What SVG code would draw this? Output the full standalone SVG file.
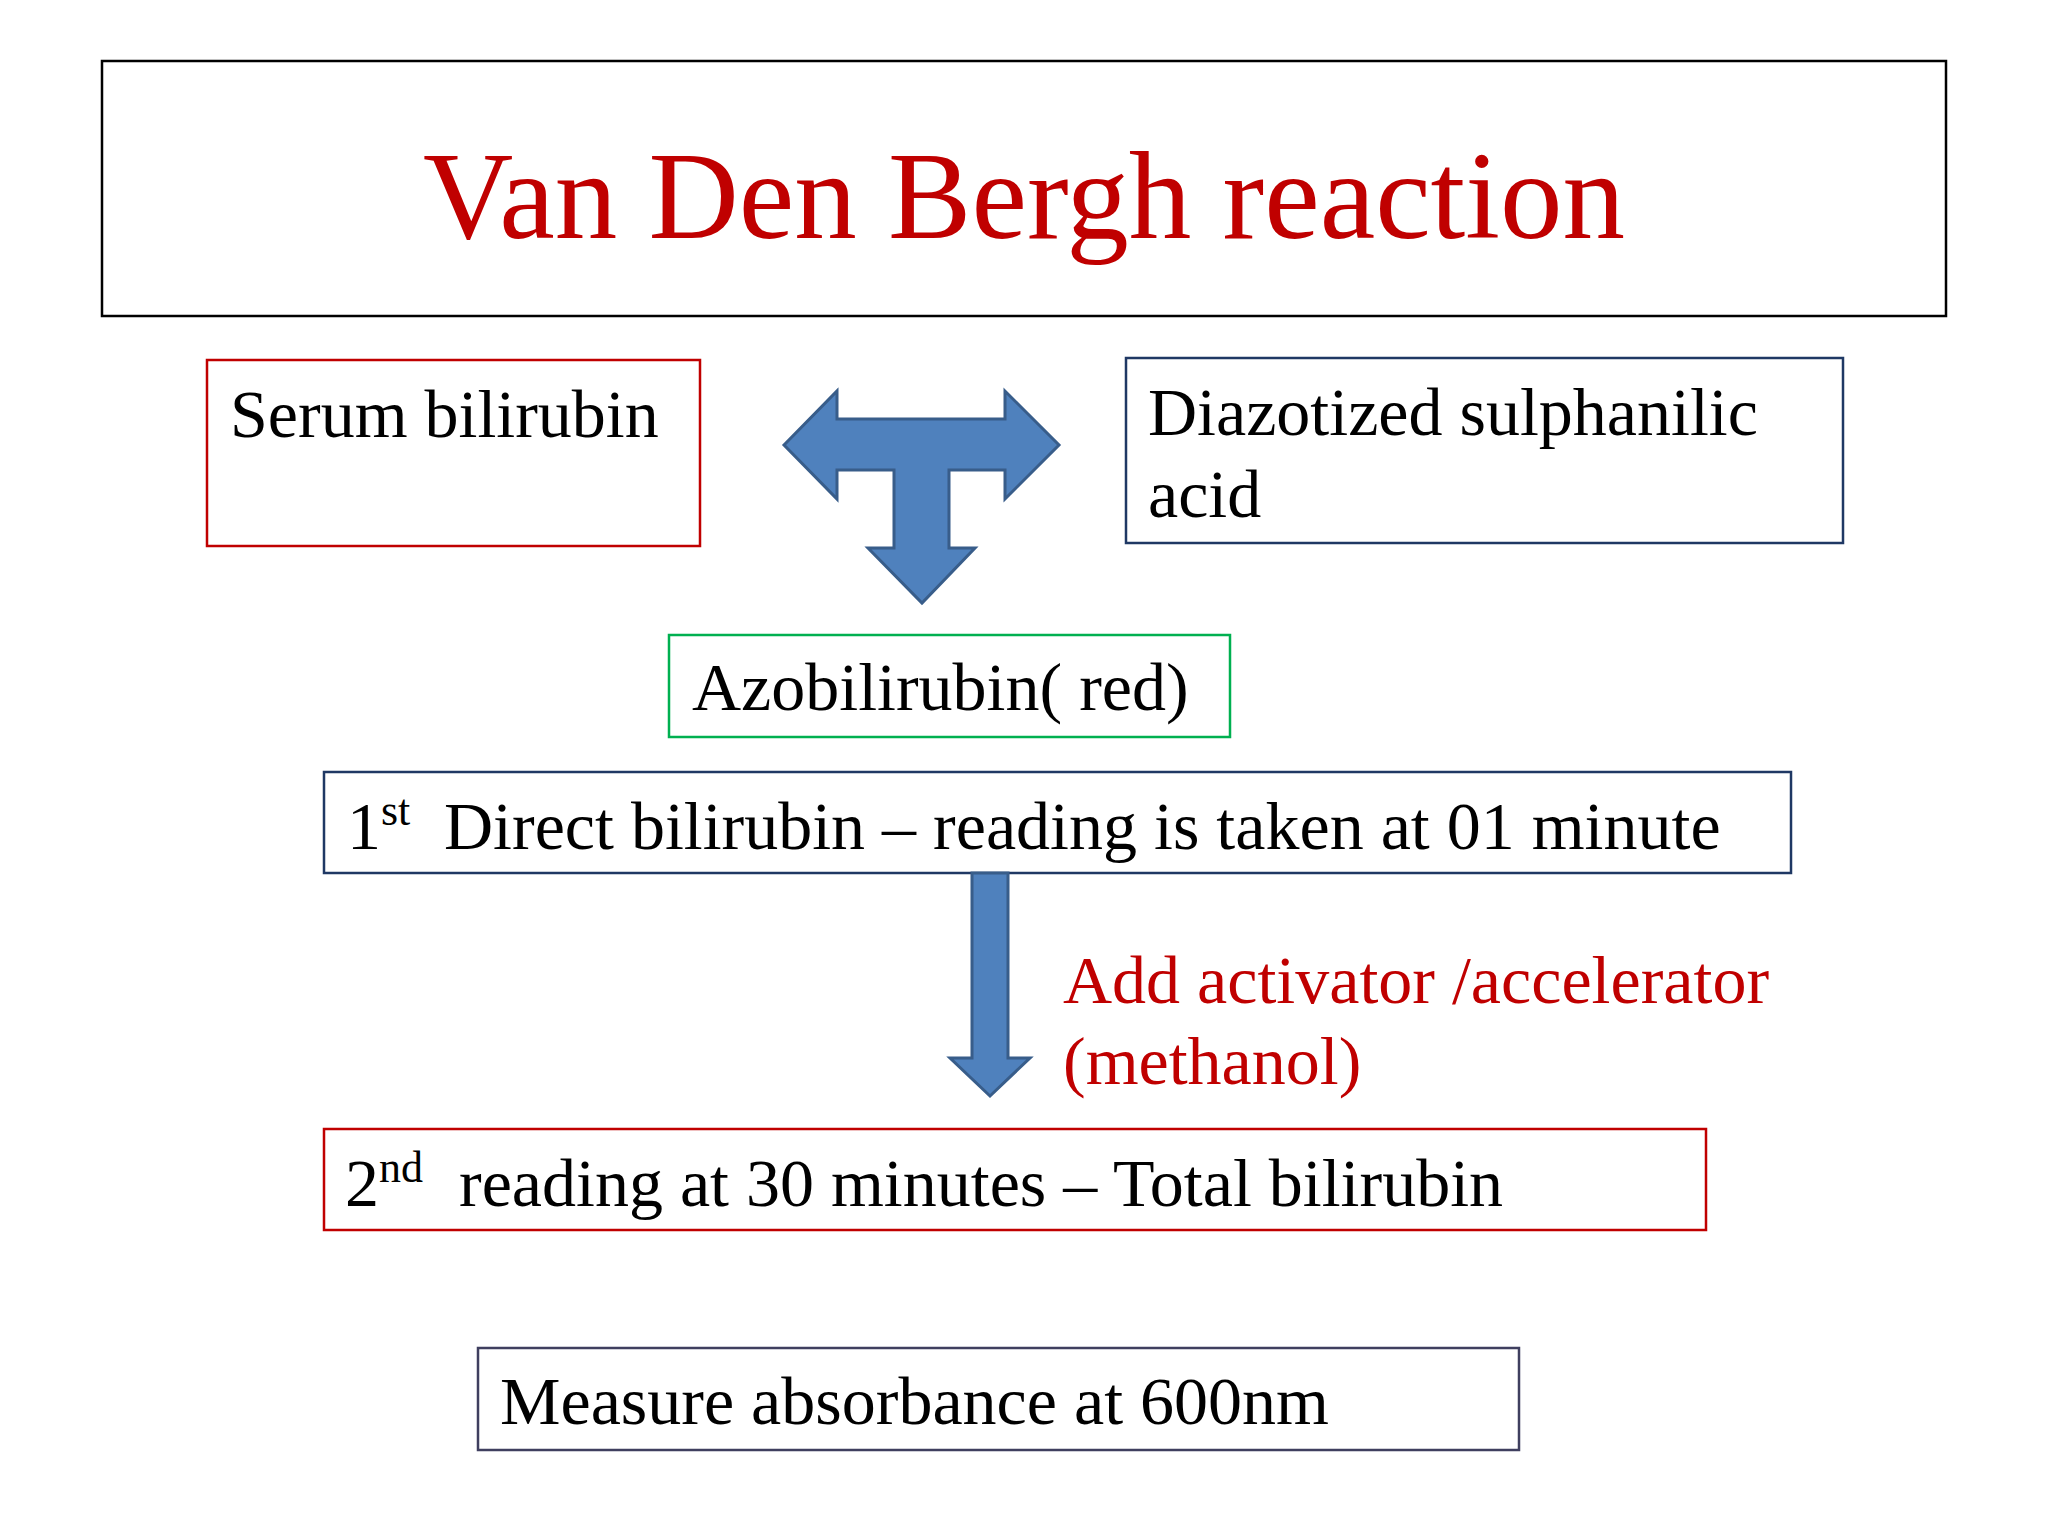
<svg xmlns="http://www.w3.org/2000/svg" width="2048" height="1536" viewBox="0 0 2048 1536">
<style>
.box{fill:#FFFFFF;stroke-width:2.5}
.t{font-family:"Liberation Serif","Times New Roman",serif;font-size:68px;fill:#000}
.t.redtext{fill:#C00000}
.red{stroke:#C00000}
.navy{stroke:#1F3864}
.arrow{fill:#4F81BD;stroke:#385D8A;stroke-width:3;stroke-linejoin:miter}
</style>
<rect width="2048" height="1536" fill="#FFFFFF"/>
<g id="title">
<rect class="box" x="102" y="61" width="1844" height="255" stroke="#000"/>
<text x="1024" y="238" text-anchor="middle" font-family="Liberation Serif, Times New Roman, serif" font-size="125" fill="#C00000">Van Den Bergh reaction</text>
</g>
<g id="serum">
<rect class="box red" x="207" y="360" width="493" height="186"/>
<text class="t" x="230" y="437">Serum bilirubin</text>
</g>
<g id="diazo">
<rect class="box navy" x="1126" y="358" width="717" height="185"/>
<text class="t" x="1148" y="435">Diazotized sulphanilic</text>
<text class="t" x="1148" y="517">acid</text>
</g>
<g id="azo">
<rect class="box" x="669" y="635" width="561" height="102" stroke="#00B050"/>
<text class="t" x="692" y="710">Azobilirubin( red)</text>
</g>
<g id="first">
<rect class="box navy" x="324" y="772" width="1467" height="101"/>
<text class="t" x="347" y="849">1<tspan font-size="44" dy="-24">st</tspan><tspan x="444" dy="24">Direct bilirubin – reading is taken at 01 minute</tspan></text>
</g>
<g id="second">
<rect class="box red" x="324" y="1129" width="1382" height="101"/>
<text class="t" x="345" y="1206">2<tspan font-size="44" dy="-24">nd</tspan><tspan x="459" dy="24">reading at 30 minutes – Total bilirubin</tspan></text>
</g>
<g id="measure">
<rect class="box" x="478" y="1348" width="1041" height="102" stroke="#3F3F5F"/>
<text class="t" x="500" y="1424">Measure absorbance at 600nm</text>
</g>
<g id="label">
<text class="t redtext" x="1063" y="1003">Add activator /accelerator</text>
<text class="t redtext" x="1063" y="1084">(methanol)</text>
</g>
<g id="connectors">
<path class="arrow" d="M784,445 L837,391 L837,419 L1005,419 L1005,391 L1059,445 L1005,499 L1005,470 L949,470 L949,548 L975,548 L922,603 L868,548 L894,548 L894,470 L837,470 L837,499 Z"/>
<path class="arrow" d="M972,873 L1008,873 L1008,1058 L1030,1058 L990,1096 L950,1058 L972,1058 Z"/>
</g>
</svg>
